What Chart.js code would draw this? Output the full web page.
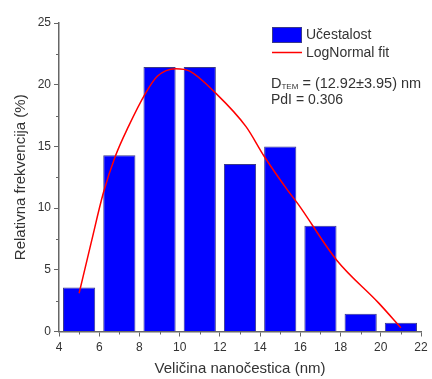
<!DOCTYPE html>
<html>
<head>
<meta charset="utf-8">
<script src="https://cdn.jsdelivr.net/npm/chart.js@4/dist/chart.umd.min.js"></script>
<style>
    html, body { margin: 0; padding: 0; background: #fff; }
    #wrap { width: 432px; height: 379px; }
</style>
</head>
<body>
<div id="wrap"><canvas id="grafik" width="432" height="379"></canvas></div>
<script>
// Histogram (sredine klasa i relativna frekvencija u %)
const sredineKlasa = [5, 7, 9, 11, 13, 15, 17, 19, 21];
const ucestalost = [3.57, 14.29, 21.43, 21.43, 13.57, 15.0, 8.57, 1.43, 0.71];

// Tacke LogNormal krive ocitane sa slike
const fitX = [5.0, 5.6, 6.2, 6.8, 7.45, 8.3, 8.9, 9.8, 10.5, 11.8, 13.3, 14.2, 15.3, 15.9, 17.8, 19.9, 21.0];
const fitY = [3.1, 7.2, 11.2, 14.2, 16.6, 19.3, 20.7, 21.3, 21.1, 19.3, 16.6, 14.2, 11.6, 10.3, 5.8, 2.3, 0.3];

// Osovine
const xOpseg = [4, 22];
const yOpseg = [0, 25];
const xKorak = 2;
const yKorak = 5;

const tekstBoja = '#333';
const osaBoja = '#666';
const font = 'Arial, "Liberation Sans", sans-serif';

// Sporedne crtice (kao u Originu)
const sporedneCrtice = {
    id: 'sporedneCrtice',
    afterDraw(chart) {
        const ctx = chart.ctx;
        const x = chart.scales.x, y = chart.scales.y;
        ctx.save();
        ctx.strokeStyle = osaBoja;
        ctx.lineWidth = 1;
        ctx.beginPath();
        for (let v = xOpseg[0] + xKorak / 2; v < xOpseg[1]; v += xKorak) {
            const px = Math.round(x.getPixelForValue(v)) + 0.5;
            ctx.moveTo(px, y.bottom);
            ctx.lineTo(px, y.bottom + 3);
        }
        for (let v = yOpseg[0] + yKorak / 2; v < yOpseg[1]; v += yKorak) {
            const py = Math.round(y.getPixelForValue(v)) + 0.5;
            ctx.moveTo(x.left, py);
            ctx.lineTo(x.left - 3, py);
        }
        ctx.stroke();
        ctx.restore();
    }
};

// Legenda i tekst u gornjem desnom uglu
const legendaTekst = {
    id: 'legendaTekst',
    afterDraw(chart) {
        const ctx = chart.ctx;
        const ds = chart.data.datasets;
        ctx.save();
        ctx.textBaseline = 'middle';
        ctx.textAlign = 'left';
        ctx.fillStyle = tekstBoja;
        ctx.font = '14px ' + font;

        // stavka 1 - stubici
        ctx.fillStyle = ds[0].backgroundColor;
        ctx.fillRect(272, 27, 30, 16);
        ctx.strokeStyle = ds[0].borderColor;
        ctx.lineWidth = 1;
        ctx.strokeRect(272.5, 27.5, 29, 15);
        ctx.fillStyle = tekstBoja;
        ctx.fillText(ds[0].label, 306, 35);

        // stavka 2 - kriva
        ctx.strokeStyle = ds[1].borderColor;
        ctx.lineWidth = 1.5;
        ctx.beginPath();
        ctx.moveTo(272, 52.5);
        ctx.lineTo(302, 52.5);
        ctx.stroke();
        ctx.fillText(ds[1].label, 306, 53);

        // D_TEM
        let xp = 271;
        ctx.font = '14.5px ' + font;
        ctx.fillText('D', xp, 84);
        xp += ctx.measureText('D').width;
        ctx.font = '8px ' + font;
        ctx.fillText('TEM', xp, 87);
        xp += ctx.measureText('TEM').width;
        ctx.font = '14.5px ' + font;
        ctx.fillText(' = (12.92\u00b13.95) nm', xp, 84);

        ctx.font = '14px ' + font;
        ctx.fillText('PdI = 0.306', 271, 100);
        ctx.restore();
    }
};

const ctx = document.getElementById('grafik').getContext('2d');

new Chart(ctx, {
    type: 'bar',
    data: {
        datasets: [
            {
                type: 'bar',
                label: 'Učestalost',
                data: sredineKlasa.map((x, i) => ({ x: x, y: ucestalost[i] })),
                backgroundColor: '#0000ff',
                borderColor: '#3a3a8a',
                borderWidth: 1,
                barPercentage: 0.8,
                categoryPercentage: 1.0,
                order: 2
            },
            {
                type: 'line',
                label: 'LogNormal fit',
                data: fitX.map((x, i) => ({ x: x, y: fitY[i] })),
                borderColor: '#ff0000',
                borderWidth: 1.5,
                pointRadius: 0,
                cubicInterpolationMode: 'monotone',
                fill: false,
                order: 1
            }
        ]
    },
    options: {
        responsive: false,
        animation: false,
        layout: { padding: { top: 23, right: 11, bottom: 0, left: 0 } },
        plugins: {
            legend: { display: false },
            tooltip: { enabled: false }
        },
        scales: {
            x: {
                type: 'linear',
                min: xOpseg[0],
                max: xOpseg[1],
                offset: false,
                afterFit: (s) => { s.height = 47.5; },
                ticks: {
                    stepSize: xKorak,
                    color: tekstBoja,
                    font: { size: 12, family: font },
                    padding: 4,
                    maxRotation: 0
                },
                grid: {
                    offset: false,
                    drawOnChartArea: false,
                    drawTicks: true,
                    tickLength: 5,
                    color: osaBoja
                },
                border: { display: true, color: osaBoja, width: 1.5 },
                title: {
                    display: true,
                    text: 'Veličina nanočestica (nm)',
                    color: tekstBoja,
                    font: { size: 15, family: font },
                    padding: { top: 0, bottom: 1 }
                }
            },
            y: {
                min: yOpseg[0],
                max: yOpseg[1],
                afterFit: (s) => { s.width = 59; },
                ticks: {
                    stepSize: yKorak,
                    color: tekstBoja,
                    font: { size: 12, family: font },
                    padding: 3
                },
                grid: {
                    drawOnChartArea: false,
                    drawTicks: true,
                    tickLength: 5,
                    color: osaBoja
                },
                border: { display: true, color: osaBoja, width: 1.5 },
                title: {
                    display: true,
                    text: 'Relativna frekvencija (%)',
                    color: tekstBoja,
                    font: { size: 15, family: font },
                    padding: { top: 12, bottom: 0 }
                }
            }
        }
    },
    plugins: [sporedneCrtice, legendaTekst]
});
</script>
</body>
</html>
